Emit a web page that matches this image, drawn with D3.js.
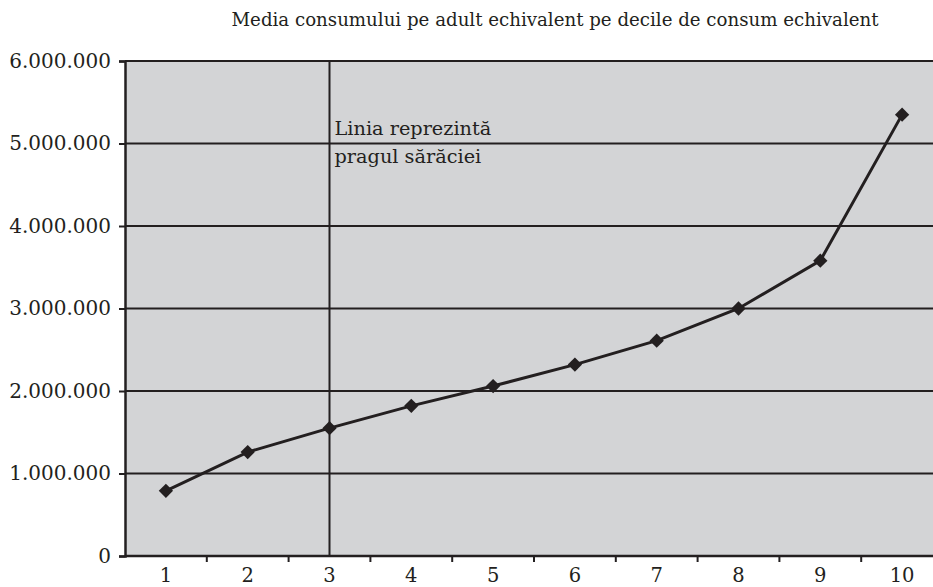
<!DOCTYPE html>
<html>
<head>
<meta charset="utf-8">
<script src="https://cdn.jsdelivr.net/npm/d3@7"></script>
<style>
  body { margin: 0; background: #fff; }
  svg text { font-family: "DejaVu Serif", "Liberation Serif", serif; fill: #231f20; }
</style>
</head>
<body>
<div id="chart"></div>
<script>
const width = 933, height = 587;
const padding = {top: 61, right: -10, bottom: 31, left: 125};

// data
const deciles = ["1", "2", "3", "4", "5", "6", "7", "8", "9", "10"];
const consum = [790000, 1260000, 1550000, 1820000, 2060000, 2320000, 2610000, 3000000, 3580000, 5350000];
const yTicks = [0, 1000000, 2000000, 3000000, 4000000, 5000000, 6000000];
const pragDecila = "3";
const title = "Media consumului pe adult echivalent pe decile de consum echivalent";
const nota = ["Linia reprezintă", "pragul sărăciei"];

const ink = "#231f20";

const svg = d3.select("#chart").append("svg")
  .attr("width", width).attr("height", height);

const x = d3.scaleBand().domain(deciles).range([padding.left, width - padding.right]);
const y = d3.scaleLinear().domain([0, 6000000]).range([height - padding.bottom, padding.top]);

const fmt = d => d3.format(",")(d).replace(/,/g, ".");

// plot background
svg.append("rect")
  .attr("x", padding.left).attr("y", y(6000000))
  .attr("width", width - padding.left).attr("height", y(0) - y(6000000))
  .attr("fill", "#d3d4d6");

// gridlines
svg.append("g").selectAll("line")
  .data(yTicks.filter(d => d > 0))
  .join("line")
    .attr("x1", padding.left).attr("x2", width)
    .attr("y1", d => y(d)).attr("y2", d => y(d))
    .attr("stroke", ink).attr("stroke-width", 2);

// y axis
const yAxis = d3.axisLeft(y).tickValues(yTicks).tickFormat(fmt).tickSize(6).tickPadding(8);
svg.append("g")
  .attr("class", "axis y")
  .attr("transform", "translate(" + padding.left + ",0)")
  .call(yAxis)
  .call(g => g.select(".domain").attr("stroke", ink).attr("stroke-width", 2.5))
  .call(g => g.selectAll(".tick line").attr("stroke", ink).attr("stroke-width", 2))
  .call(g => g.selectAll(".tick text").attr("font-size", 20));

// x axis
const xAxis = d3.axisBottom(x).tickSize(0).tickPadding(12);
svg.append("g")
  .attr("class", "axis x")
  .attr("transform", "translate(0," + y(0) + ")")
  .call(xAxis)
  .call(g => g.select(".domain").remove())
  .call(g => g.selectAll(".tick text").attr("font-size", 19.5));

svg.append("line")
  .attr("x1", padding.left).attr("x2", width)
  .attr("y1", y(0)).attr("y2", y(0))
  .attr("stroke", ink).attr("stroke-width", 2.5);

// category separators on x axis
svg.append("g").selectAll("line")
  .data(deciles.slice(1))
  .join("line")
    .attr("x1", d => x(d)).attr("x2", d => x(d))
    .attr("y1", y(0)).attr("y2", y(0) + 6)
    .attr("stroke", ink).attr("stroke-width", 2);

// poverty line
const px = x(pragDecila) + x.bandwidth() / 2;
svg.append("line")
  .attr("x1", px).attr("x2", px)
  .attr("y1", y(6000000)).attr("y2", y(0))
  .attr("stroke", ink).attr("stroke-width", 2);

svg.append("text")
  .attr("x", px + 5).attr("y", 135)
  .attr("font-size", 19.3)
  .selectAll("tspan")
  .data(nota)
  .join("tspan")
    .attr("x", px + 5)
    .attr("dy", (d, i) => i === 0 ? 0 : 28)
    .text(d => d);

// series line
const line = d3.line()
  .x((d, i) => x(deciles[i]) + x.bandwidth() / 2)
  .y(d => y(d));

svg.append("path")
  .datum(consum)
  .attr("fill", "none")
  .attr("stroke", ink)
  .attr("stroke-width", 3)
  .attr("d", line);

svg.append("g").selectAll("path")
  .data(consum)
  .join("path")
    .attr("transform", (d, i) => "translate(" + (x(deciles[i]) + x.bandwidth() / 2) + "," + y(d) + ")")
    .attr("d", d3.symbol(d3.symbolDiamond2, 130))
    .attr("fill", ink);

// title
svg.append("text")
  .attr("x", 555).attr("y", 26)
  .attr("text-anchor", "middle")
  .attr("font-size", 18.2)
  .text(title);
</script>
</body>
</html>
